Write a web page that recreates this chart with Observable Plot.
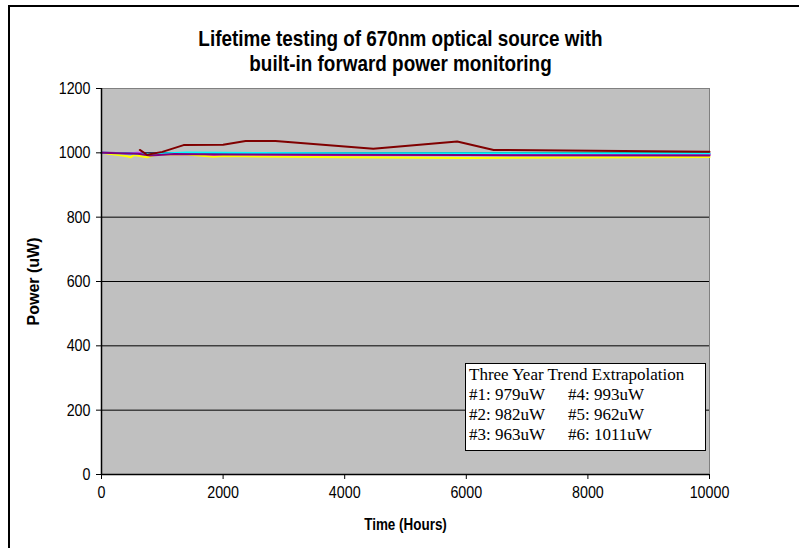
<!DOCTYPE html>
<html>
<head>
<meta charset="utf-8">
<script src="https://cdn.jsdelivr.net/npm/d3@7"></script>
<script src="https://cdn.jsdelivr.net/npm/@observablehq/plot@0.6"></script>
<style>
  body { margin: 0; background: #fff; }
  #wrap { position: relative; width: 799px; height: 548px; overflow: hidden; }
  #outer { position: absolute; left: 8px; top: 5px; width: 800px; height: 600px; border-left: 2px solid #000; border-top: 2px solid #000; pointer-events: none; }
  #note { position: absolute; left: 465px; top: 363px; width: 239px; height: 86px; background: #fff; border: 1px solid #000;
          font-family: "Liberation Serif", "Times New Roman", serif; font-size: 17px; color: #000; }
  #note div { position: absolute; white-space: nowrap; }
</style>
</head>
<body>
<div id="wrap">
  <div id="chart"></div>
  <div id="note"></div>
  <div id="outer"></div>
</div>
<script>
const titleLines = ["Lifetime testing of 670nm optical source with", "built-in forward power monitoring"];
const xLabel = "Time (Hours)";
const yLabel = "Power (uW)";
const xTicks = [0, 2000, 4000, 6000, 8000, 10000];
const yTicks = [0, 200, 400, 600, 800, 1000, 1200];

const seriesNames = ["#1", "#2", "#3", "#4", "#5", "#6"];
const seriesColors = ["#000080", "#ff00ff", "#ffff00", "#00ffff", "#800080", "#800000"];

const hours1 = [0, 500, 800, 1400, 2000, 4000, 6000, 8000, 10000];
const power1 = [1000, 999, 997, 999, 998, 997, 997, 996, 996];
const hours2 = [0, 400, 600, 800, 1200, 1600, 1900, 2100, 4000, 6000, 10000];
const power2 = [1000, 998, 1000, 994, 996, 995, 990, 994, 993, 993, 994];
const hours3 = [0, 400, 480, 530, 750, 900, 1400, 1850, 2000, 4000, 6000, 10000];
const power3 = [1000, 990, 986, 993, 986, 995, 995, 988, 990, 986, 984, 987];
const hours4 = [0, 800, 1400, 2000, 4000, 6000, 10000];
const power4 = [1000, 996, 1001, 1000, 999, 999, 998];
const hours5 = [0, 600, 800, 1200, 2000, 4000, 6000, 10000];
const power5 = [1000, 997, 992, 996, 995, 994, 993, 992];
const hours6 = [630, 750, 1000, 1350, 2000, 2370, 2860, 4470, 5850, 6450, 10000];
const power6 = [1009, 994, 1003, 1024, 1025, 1037, 1037, 1013, 1035, 1009, 1003];

const trendTitle = "Three Year Trend Extrapolation";
const trendValues = ["979uW", "982uW", "963uW", "993uW", "962uW", "1011uW"];

const hoursAll = [hours1, hours2, hours3, hours4, hours5, hours6];
const powerAll = [power1, power2, power3, power4, power5, power6];
const rows = [];
seriesNames.forEach((s, i) => hoursAll[i].forEach((h, j) => rows.push({series: s, hours: h, power: powerAll[i][j]})));

const font = "Arial, 'Liberation Sans', sans-serif";
const lineMarks = [];
seriesNames.forEach((s, i) => {
  lineMarks.push(Plot.line(rows.filter(d => d.series === s), {x: "hours", y: "power", stroke: seriesColors[i], strokeWidth: 2}));
});

const chart = Plot.plot({
  width: 799,
  height: 548,
  marginLeft: 101,
  marginRight: 90,
  marginTop: 88,
  marginBottom: 74,
  style: {fontFamily: font, fontSize: "17px", color: "#000", background: "transparent"},
  x: {domain: [0, 10000], ticks: xTicks},
  y: {domain: [0, 1200], ticks: yTicks},
  marks: [
    Plot.frame({fill: "#c0c0c0", stroke: "#808080"}),
    Plot.gridY(yTicks.filter(v => v > 0 && v < 1200), {stroke: "#000", strokeOpacity: 1, strokeWidth: 1}),
    ...lineMarks,
    Plot.ruleX([0], {stroke: "#000", strokeWidth: 1.5}),
    Plot.ruleY([0], {stroke: "#000", strokeWidth: 1.5}),
    Plot.axisX({ticks: xTicks, tickSize: 5, tickPadding: 6, label: null, fontSize: 17, tickFormat: d => String(d)}),
    Plot.axisY({ticks: yTicks, tickSize: 5, tickPadding: 6, label: null, fontSize: 17, tickFormat: d => String(d)}),
    Plot.text([titleLines[0]], {text: d => d, frameAnchor: "top", dx: -5, dy: -50, lineAnchor: "middle", fontWeight: "bold", fontSize: 22.5}),
    Plot.text([titleLines[1]], {text: d => d, frameAnchor: "top", dx: -5, dy: -25, lineAnchor: "middle", fontWeight: "bold", fontSize: 22.5}),
    Plot.text([xLabel], {text: d => d, frameAnchor: "bottom", dy: 50, lineAnchor: "middle", fontWeight: "bold", fontSize: 16}),
    Plot.text([yLabel], {text: d => d, frameAnchor: "left", dx: -68, rotate: -90, textAnchor: "middle", lineAnchor: "middle", fontWeight: "bold", fontSize: 16})
  ]
});
document.getElementById("chart").appendChild(chart);

// the reference renders its sans-serif text narrow: compress horizontal text glyphs
const squeeze = 0.84;
d3.select(chart).selectAll("text").each(function () {
  const tr = this.getAttribute("transform") || "";
  const parentTr = (this.parentNode.getAttribute && this.parentNode.getAttribute("transform")) || "";
  if (tr.includes("rotate") || parentTr.includes("rotate")) return;
  const len = this.getComputedTextLength();
  if (len > 0) {
    this.setAttribute("textLength", (len * squeeze).toFixed(2));
    this.setAttribute("lengthAdjust", "spacingAndGlyphs");
  }
});

const note = document.getElementById("note");
function addLine(text, left, top) {
  const el = document.createElement("div");
  el.textContent = text;
  el.style.left = left + "px";
  el.style.top = top + "px";
  note.appendChild(el);
}
addLine(trendTitle, 3, 1);
for (let i = 0; i < 3; i++) {
  addLine(seriesNames[i] + ": " + trendValues[i], 3, 21 + i * 20);
  addLine(seriesNames[i + 3] + ": " + trendValues[i + 3], 102, 21 + i * 20);
}
</script>
</body>
</html>
